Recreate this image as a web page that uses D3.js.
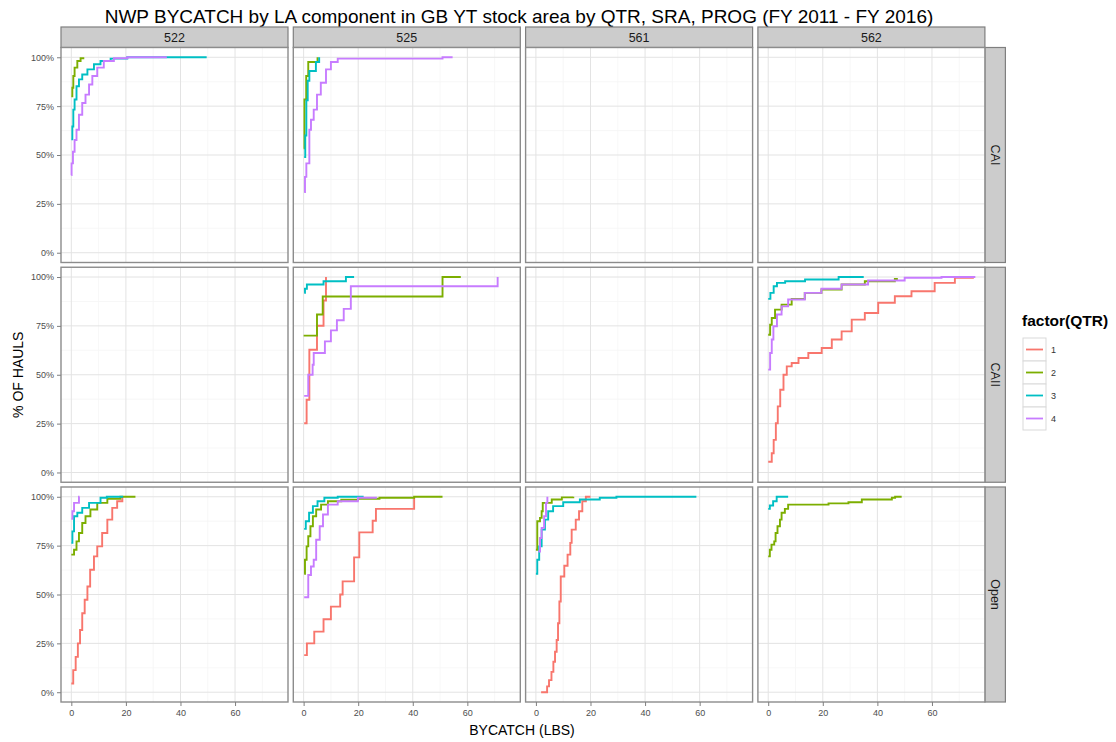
<!DOCTYPE html>
<html>
<head>
<meta charset="utf-8">
<script src="https://cdn.jsdelivr.net/npm/d3@7"></script>
<style>
    body { margin: 0; background: #ffffff; }
    #chart-area { width: 1116px; height: 742px; }
    text { font-family: "Liberation Sans", Arial, sans-serif; }
</style>
</head>
<body>
<div id="chart-area"></div>
<script>

// facets + legend
const programs = ["CAI", "CAII", "Open"];
const areas = ["522", "525", "561", "562"];
const quarters = ["1", "2", "3", "4"];
const qtrColors = ["#F8766D", "#7CAE00", "#00BFC4", "#C77CFF"];
const xTicks = [0, 20, 40, 60];
const yTicks = [0, 0.25, 0.5, 0.75, 1];

// ECDF steps [bycatch lbs, share of hauls]
const cai522q2 = [[0,0.80],[0.37,0.844],[0.73,0.904],[1.2,0.947],[2.2,0.981],[3.4,0.995],[4.4,1.0]];
const cai522q3 = [[0,0.58],[0.37,0.646],[0.73,0.732],[1.2,0.784],[1.9,0.852],[2.8,0.887],[4.0,0.912],[5.9,0.938],[8.3,0.964],[10.7,0.981],[14.4,0.993],[20.5,1.0],[49.6,1.0]];
const cai522q4 = [[0,0.397],[0.1,0.457],[0.6,0.517],[1.2,0.577],[1.9,0.629],[2.8,0.706],[4.0,0.766],[5.2,0.809],[6.5,0.861],[7.7,0.904],[9.5,0.947],[11.9,0.981],[15.6,0.995],[20.5,1.0],[35,1.0]];

const cai525q2 = [[0,0.534],[0.3,0.784],[0.95,0.904],[1.7,0.976],[5.1,1.0]];
const cai525q3 = [[0.2,0.49],[0.6,0.60],[1.0,0.78],[1.5,0.88],[2.1,0.93],[4.5,0.976],[5.7,1.0]];
const cai525q4 = [[0.2,0.31],[0.5,0.388],[1.0,0.457],[2.1,0.629],[2.7,0.68],[3.7,0.732],[4.9,0.809],[6.3,0.87],[8.2,0.938],[10,0.976],[12.5,0.993],[50.9,1.0],[54.6,1.0]];

const caii525q1 = [[0.2,0.252],[1.1,0.372],[2.1,0.628],[4.9,0.751],[7.3,0.88],[8.2,1.0]];
const caii525q2 = [[0,0.70],[4.9,0.808],[7.0,0.90],[50.9,1.0],[57.6,1.0]];
const caii525q3 = [[0.2,0.919],[0.5,0.94],[1.2,0.962],[7.3,0.978],[15.5,1.0],[18.5,1.0]];
const caii525q4 = [[0.2,0.392],[1.7,0.5],[3.3,0.551],[3.7,0.611],[7.8,0.671],[10,0.727],[12.2,0.779],[14.7,0.837],[17.3,0.953],[71.1,1.0]];

const caii562q1 = [[0,0.055],[1.3,0.098],[2.0,0.167],[2.8,0.252],[3.5,0.338],[4.4,0.423],[5.6,0.5],[6.8,0.543],[8.6,0.56],[11.1,0.586],[14.7,0.611],[19.6,0.637],[23.3,0.68],[26.9,0.722],[30.6,0.782],[35.4,0.816],[40.3,0.868],[46.4,0.902],[52.5,0.927],[61,0.97],[68.4,0.996],[75,1.0]];
const caii562q2 = [[0,0.705],[0.7,0.756],[1.3,0.79],[2.5,0.833],[4.9,0.859],[8.6,0.888],[13.4,0.919],[19.5,0.936],[26.9,0.962],[35.4,0.978],[46.4,0.99],[47.5,0.99]];
const caii562q3 = [[0,0.888],[0.8,0.919],[2.0,0.953],[3.2,0.97],[6.2,0.978],[13.5,0.987],[25.8,1.0],[35,1.0]];
const caii562q4 = [[0,0.526],[0.7,0.611],[1.3,0.68],[1.9,0.748],[3.2,0.808],[4.9,0.85],[7.3,0.885],[13.4,0.919],[19.5,0.94],[26.9,0.962],[36.6,0.982],[50,0.996],[63.5,1.0],[75.9,1.0]];

const open522q1 = [[0,0.045],[0.7,0.113],[1.6,0.181],[2.4,0.25],[3.2,0.318],[4.0,0.404],[4.9,0.473],[5.9,0.541],[6.9,0.627],[8.3,0.695],[9.5,0.746],[11.3,0.815],[13.2,0.883],[15.0,0.943],[16.8,0.977],[18.7,1.0]];
const open522q2 = [[0,0.704],[1.0,0.729],[1.9,0.772],[2.8,0.815],[4.0,0.866],[5.2,0.9],[7.0,0.935],[9.5,0.969],[13.2,0.99],[18,1.0],[23.5,1.0]];
const open522q3 = [[0,0.764],[0.4,0.823],[1.0,0.9],[2.2,0.918],[4.0,0.943],[6.5,0.969],[10.7,0.995],[13,1.0],[19,1.0]];
const open522q4 = [[0,0.887],[0.4,0.926],[1.0,0.969],[2.8,1.0],[3.0,1.0]];

const open525q1 = [[0.2,0.19],[1.2,0.25],[3.9,0.31],[7.3,0.373],[10.0,0.438],[13.4,0.5],[14.3,0.567],[18.5,0.69],[20.4,0.818],[25.3,0.877],[26.5,0.938],[40.5,1.0]];
const open525q2 = [[0.2,0.606],[0.5,0.678],[1.1,0.746],[1.7,0.798],[2.5,0.849],[3.4,0.9],[4.6,0.935],[6.4,0.96],[8.9,0.977],[13.8,0.985],[19.9,0.99],[27.8,0.995],[40.5,1.0],[50.9,1.0]];
const open525q3 = [[0.2,0.836],[0.8,0.875],[2.0,0.918],[3.4,0.952],[5.1,0.977],[7.6,0.995],[12.5,1.0],[22,1.0]];
const open525q4 = [[0.2,0.486],[1.7,0.6],[2.7,0.643],[3.7,0.678],[4.6,0.78],[5.9,0.849],[7.1,0.909],[8.9,0.96],[12.5,0.977],[19.9,0.995],[26.5,1.0]];

const open561q1 = [[1.9,0.0],[4.1,0.03],[4.8,0.062],[5.7,0.104],[6.4,0.156],[7.0,0.207],[7.6,0.267],[8.1,0.353],[8.6,0.464],[9.1,0.592],[10.4,0.647],[11.6,0.704],[12.6,0.764],[13.1,0.832],[14.6,0.883],[15.8,0.926],[17.0,0.977],[18.3,1.0],[20,1.0]];
const open561q2 = [[0,0.729],[0.5,0.875],[1.5,0.892],[2.1,0.926],[2.5,0.969],[5.8,0.986],[9.5,0.997],[13.7,1.0]];
const open561q3 = [[0,0.606],[0.5,0.678],[1.2,0.746],[2.1,0.832],[3.3,0.883],[4.5,0.926],[6.3,0.952],[10,0.972],[16.1,0.986],[23.4,0.995],[29.5,1.0],[58.8,1.0]];
const open561q4 = [[0.9,0.72],[1.5,0.789],[2.1,0.841],[3.0,0.9],[3.7,0.969],[4.2,1.0]];

const open562q2 = [[0,0.695],[0.6,0.729],[1.2,0.755],[2.2,0.772],[2.7,0.815],[3.4,0.849],[4.3,0.883],[4.9,0.918],[6.1,0.938],[7.3,0.96],[22.1,0.966],[29.4,0.972],[34.3,0.986],[45.3,0.995],[46.5,1.0],[48.9,1.0]];
const open562q3 = [[0,0.938],[0.6,0.955],[1.8,0.977],[3.1,1.0],[7.3,1.0]];

// which panel / quarter each step series belongs to
const seriesTable = [
    {prog: "CAI", area: "522", qtr: "2", pts: cai522q2},
    {prog: "CAI", area: "522", qtr: "3", pts: cai522q3},
    {prog: "CAI", area: "522", qtr: "4", pts: cai522q4},
    {prog: "CAI", area: "525", qtr: "2", pts: cai525q2},
    {prog: "CAI", area: "525", qtr: "3", pts: cai525q3},
    {prog: "CAI", area: "525", qtr: "4", pts: cai525q4},
    {prog: "CAII", area: "525", qtr: "1", pts: caii525q1},
    {prog: "CAII", area: "525", qtr: "2", pts: caii525q2},
    {prog: "CAII", area: "525", qtr: "3", pts: caii525q3},
    {prog: "CAII", area: "525", qtr: "4", pts: caii525q4},
    {prog: "CAII", area: "562", qtr: "1", pts: caii562q1},
    {prog: "CAII", area: "562", qtr: "2", pts: caii562q2},
    {prog: "CAII", area: "562", qtr: "3", pts: caii562q3},
    {prog: "CAII", area: "562", qtr: "4", pts: caii562q4},
    {prog: "Open", area: "522", qtr: "1", pts: open522q1},
    {prog: "Open", area: "522", qtr: "2", pts: open522q2},
    {prog: "Open", area: "522", qtr: "3", pts: open522q3},
    {prog: "Open", area: "522", qtr: "4", pts: open522q4},
    {prog: "Open", area: "525", qtr: "1", pts: open525q1},
    {prog: "Open", area: "525", qtr: "2", pts: open525q2},
    {prog: "Open", area: "525", qtr: "3", pts: open525q3},
    {prog: "Open", area: "525", qtr: "4", pts: open525q4},
    {prog: "Open", area: "561", qtr: "1", pts: open561q1},
    {prog: "Open", area: "561", qtr: "2", pts: open561q2},
    {prog: "Open", area: "561", qtr: "3", pts: open561q3},
    {prog: "Open", area: "561", qtr: "4", pts: open561q4},
    {prog: "Open", area: "562", qtr: "2", pts: open562q2},
    {prog: "Open", area: "562", qtr: "3", pts: open562q3}
];


class FacetEcdf {

    constructor(parentElement, data) {
        this.parentElement = parentElement;
        this.data = data;
        this.initVis();
    }

    /*
     * Panels, strips, axes, legend
     */
    initVis() {
        let vis = this;

        vis.margin = {top: 47.5, left: 61};
        vis.panelW = 227;
        vis.panelH = 215;
        vis.gapX = 5.3;
        vis.gapY = 4.75;
        vis.stripH = 20.5;
        vis.tickFont = "\"DejaVu Sans\", Verdana, sans-serif";

        vis.svg = d3.select("#" + vis.parentElement).append("svg")
            .attr("width", 1116)
            .attr("height", 742);

        vis.svg.append("rect")
            .attr("width", 1116).attr("height", 742)
            .attr("fill", "#ffffff");

        vis.x = d3.scaleLinear().domain([-3.78, 79.4]).range([0, vis.panelW]);
        vis.y = d3.scaleLinear().domain([-0.05, 1.05]).range([vis.panelH, 0]);

        vis.color = d3.scaleOrdinal().domain(quarters).range(qtrColors);

        vis.stepLine = d3.line()
            .curve(d3.curveStepAfter)
            .x(d => vis.x(d[0]))
            .y(d => vis.y(d[1]));

        vis.colLeft = j => vis.margin.left + j * (vis.panelW + vis.gapX);
        vis.rowTop = i => vis.margin.top + i * (vis.panelH + vis.gapY);

        // title
        vis.svg.append("text")
            .attr("x", 519).attr("y", 22.5)
            .attr("text-anchor", "middle")
            .attr("font-size", 19)
            .attr("fill", "#000")
            .text("NWP BYCATCH by LA component in GB YT stock area by QTR, SRA, PROG (FY 2011 - FY 2016)");

        // column strips
        areas.forEach((a, j) => {
            vis.svg.append("rect")
                .attr("x", vis.colLeft(j)).attr("y", vis.margin.top - vis.stripH)
                .attr("width", vis.panelW).attr("height", vis.stripH)
                .attr("fill", "#cccccc").attr("stroke", "#7f7f7f").attr("stroke-width", 1.2);
            vis.svg.append("text")
                .attr("x", vis.colLeft(j) + vis.panelW / 2)
                .attr("y", vis.margin.top - vis.stripH / 2 + 4.5)
                .attr("text-anchor", "middle")
                .attr("font-size", 12.5).attr("fill", "#1a1a1a")
                .text(a);
        });

        // row strips
        let stripX = vis.colLeft(3) + vis.panelW;
        programs.forEach((p, i) => {
            vis.svg.append("rect")
                .attr("x", stripX).attr("y", vis.rowTop(i))
                .attr("width", vis.stripH).attr("height", vis.panelH)
                .attr("fill", "#cccccc").attr("stroke", "#7f7f7f").attr("stroke-width", 1.2);
            vis.svg.append("text")
                .attr("transform", `translate(${stripX + vis.stripH / 2 - 4.5}, ${vis.rowTop(i) + vis.panelH / 2}) rotate(90)`)
                .attr("text-anchor", "middle")
                .attr("font-size", 12.5).attr("fill", "#1a1a1a")
                .text(p);
        });

        // axis titles
        vis.svg.append("text")
            .attr("x", 522).attr("y", 735)
            .attr("text-anchor", "middle")
            .attr("font-size", 14).attr("fill", "#000")
            .text("BYCATCH (LBS)");

        vis.svg.append("text")
            .attr("transform", `translate(22.5, ${vis.rowTop(1) + vis.panelH / 2}) rotate(-90)`)
            .attr("text-anchor", "middle")
            .attr("font-size", 14).attr("fill", "#000")
            .text("% OF HAULS");

        vis.drawLegend();
        vis.updateVis();
    }

    drawLegend() {
        let vis = this;

        let lg = vis.svg.append("g").attr("transform", "translate(1023, 338)");

        lg.append("text")
            .attr("x", -1).attr("y", -12)
            .attr("font-size", 15.5).attr("font-weight", "bold")
            .attr("fill", "#000")
            .text("factor(QTR)");

        quarters.forEach((q, k) => {
            let row = lg.append("g").attr("transform", `translate(0, ${k * 23})`);
            row.append("rect")
                .attr("width", 23).attr("height", 23)
                .attr("fill", "#ffffff").attr("stroke", "#d9d9d9").attr("stroke-width", 1);
            row.append("line")
                .attr("x1", 3).attr("x2", 20)
                .attr("y1", 11.5).attr("y2", 11.5)
                .attr("stroke", vis.color(q)).attr("stroke-width", 1.8);
            row.append("text")
                .attr("x", 28).attr("y", 15)
                .attr("font-size", 9).attr("fill", "#333")
                .attr("font-family", vis.tickFont)
                .text(q);
        });
    }

    /*
     * Panels and step lines
     */
    updateVis() {
        let vis = this;

        let xMinor = [10, 30, 50, 70];
        let yMinor = [0.125, 0.375, 0.625, 0.875];

        programs.forEach((p, i) => {
            areas.forEach((a, j) => {
                let g = vis.svg.append("g")
                    .attr("transform", `translate(${vis.colLeft(j)}, ${vis.rowTop(i)})`);

                g.append("rect")
                    .attr("width", vis.panelW).attr("height", vis.panelH)
                    .attr("fill", "#ffffff");

                // grid
                g.selectAll(".xminor").data(xMinor).enter().append("line")
                    .attr("x1", d => vis.x(d)).attr("x2", d => vis.x(d))
                    .attr("y1", 0).attr("y2", vis.panelH)
                    .attr("stroke", "#f5f5f5").attr("stroke-width", 0.8);
                g.selectAll(".yminor").data(yMinor).enter().append("line")
                    .attr("x1", 0).attr("x2", vis.panelW)
                    .attr("y1", d => vis.y(d)).attr("y2", d => vis.y(d))
                    .attr("stroke", "#f5f5f5").attr("stroke-width", 0.8);
                g.selectAll(".xmajor").data(xTicks).enter().append("line")
                    .attr("x1", d => vis.x(d)).attr("x2", d => vis.x(d))
                    .attr("y1", 0).attr("y2", vis.panelH)
                    .attr("stroke", "#e3e3e3").attr("stroke-width", 1);
                g.selectAll(".ymajor").data(yTicks).enter().append("line")
                    .attr("x1", 0).attr("x2", vis.panelW)
                    .attr("y1", d => vis.y(d)).attr("y2", d => vis.y(d))
                    .attr("stroke", "#e3e3e3").attr("stroke-width", 1);

                // ECDF lines, Q1 first so Q4 ends up on top
                let panelData = vis.data.filter(d => d.prog === p && d.area === a);
                g.selectAll(".ecdf").data(panelData).enter().append("path")
                    .attr("class", "ecdf")
                    .attr("d", d => vis.stepLine(d.pts))
                    .attr("fill", "none")
                    .attr("stroke", d => vis.color(d.qtr))
                    .attr("stroke-width", 1.9);

                g.append("rect")
                    .attr("width", vis.panelW).attr("height", vis.panelH)
                    .attr("fill", "none").attr("stroke", "#8c8c8c").attr("stroke-width", 1.4);

                if (j === 0) {
                    let yAxis = d3.axisLeft(vis.y)
                        .tickValues(yTicks)
                        .tickFormat(d3.format(".0%"))
                        .tickSize(4).tickPadding(3);
                    let ag = g.append("g").attr("class", "y-axis axis").call(yAxis);
                    vis.styleAxis(ag);
                }
                if (i === programs.length - 1) {
                    let xAxis = d3.axisBottom(vis.x)
                        .tickValues(xTicks)
                        .tickSize(4).tickPadding(4);
                    let ag = g.append("g").attr("class", "x-axis axis")
                        .attr("transform", `translate(0, ${vis.panelH})`)
                        .call(xAxis);
                    vis.styleAxis(ag);
                }
            });
        });
    }

    styleAxis(ag) {
        let vis = this;
        ag.select(".domain").remove();
        ag.selectAll(".tick line").attr("stroke", "#7f7f7f");
        ag.selectAll(".tick text")
            .attr("font-size", 9)
            .attr("fill", "#4d4d4d")
            .attr("font-family", vis.tickFont);
    }
}

let facetChart = new FacetEcdf("chart-area", seriesTable);

</script>
</body>
</html>
